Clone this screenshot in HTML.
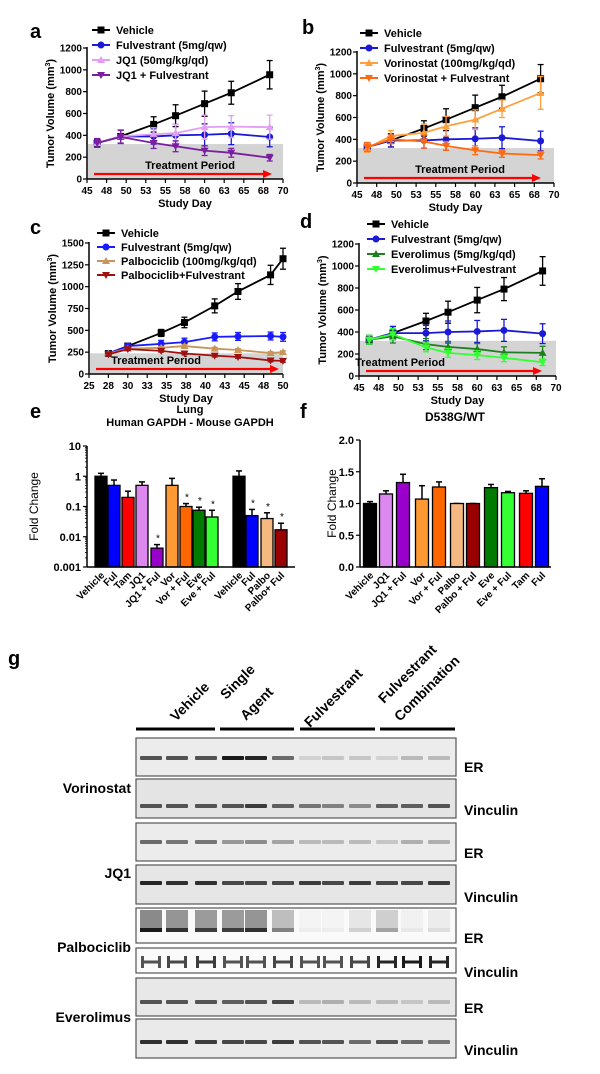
<!DOCTYPE html>
<html><head><meta charset="utf-8"><style>
body{margin:0;background:#fff}
svg{display:block;font-family:"Liberation Sans",Arial,sans-serif;font-weight:bold}
</style></head><body>
<svg id="fig" width="600" height="1074" viewBox="0 0 600 1074"></svg>
<script>
const daysA=[46.3,49.3,53.5,56.3,60,63.4,68.3];
const vehA=[330,390,500,580,690,790,955];
const vehAErr=[40,60,70,100,115,105,130];
const fulA=[330,390,390,400,405,415,385];
const fulAErr=[40,60,70,100,100,100,90];
const jq1A=[330,390,410,420,475,480,475];
const jq1AErr=[40,60,60,80,110,100,110];
const jqfA=[330,385,330,300,260,240,195];
const jqfAErr=[40,60,50,50,45,40,30];
const vorB=[320,430,460,520,580,680,825];
const vorBErr=[40,50,80,90,90,80,150];
const vorfB=[330,400,380,340,300,270,255];
const vorfBErr=[40,40,60,40,40,35,35];
const eveD=[330,360,290,265,245,215,210];
const eveDErr=[40,60,50,50,50,50,60];
const evefD=[330,380,260,210,190,165,125];
const evefDErr=[40,50,40,40,40,35,30];
const daysC=[27.5,30,34.3,37.3,41.2,44.2,48.4,50];
const vehC=[235,320,470,590,780,945,1135,1320];
const vehCErr=[20,20,40,60,80,90,110,120];
const fulC=[235,320,345,365,425,430,435,425];
const fulCErr=[20,20,40,45,45,45,45,50];
const palC=[235,290,300,320,290,275,240,250];
const palCErr=[15,15,15,15,15,15,15,15];
const palfC=[225,285,265,235,210,195,155,150];
const palfCErr=[15,15,15,15,15,15,15,15];
const ticksA=["45","48","50","53","55","58","60","63","65","68","70"];
const ticksC=["25","28","30","33","35","38","40","43","45","48","50"];
const catsE=["Vehicle","Ful","Tam","JQ1","JQ1 + Ful","Vor","Vor + Ful","Eve","Eve + Ful","Vehicle","Ful","Palbo","Palbo+ Ful"];
const valsE=[1.0,0.5,0.2,0.5,0.0042,0.5,0.1,0.075,0.045,1.0,0.05,0.04,0.017];
const errE=[1.25,0.75,0.32,0.65,0.0055,0.85,0.125,0.095,0.075,1.5,0.08,0.062,0.028];
const starE=[0,0,0,0,1,0,1,1,1,0,1,1,1];
const colE=["#000","#0000ff","#ff0000","#dd88ee","#9900cc","#ff9933","#ff6600","#007a00","#33ff33","#000","#0000ff","#f4b880","#990000"];
const catsF=["Vehicle","JQ1","JQ1 + Ful","Vor","Vor + Ful","Palbo","Palbo + Ful","Eve","Eve + Ful","Tam","Ful"];
const valsF=[1.0,1.15,1.33,1.07,1.26,1.0,1.0,1.25,1.17,1.16,1.27];
const errF=[0.03,0.05,0.13,0.21,0.08,0,0,0.05,0.02,0.04,0.12];
const colF=["#000","#dd88ee","#9900cc","#ff9933","#ff6600","#f4b880","#990000","#007a00","#33ff33","#ff0000","#0000ff"];

const NS="http://www.w3.org/2000/svg";
const svg=document.getElementById('fig');
function el(tag,attrs,parent,text){const e=document.createElementNS(NS,tag);for(const k in attrs)e.setAttribute(k,attrs[k]);if(text!==undefined)e.textContent=text;(parent||svg).appendChild(e);return e;}
function grp(name){const g=el('g',{});return g;}

function marker(g,type,x,y,c){
  let m;
  if(type==='sq')m=el('rect',{x:x-3.5,y:y-3.5,width:7,height:7,fill:c},g);
  else if(type==='ci')m=el('circle',{cx:x,cy:y,r:3.5,fill:c},g);
  else if(type==='tu')m=el('polygon',{points:`${x},${y-4} ${x-4},${y+3} ${x+4},${y+3}`,fill:c},g);
  else m=el('polygon',{points:`${x},${y+4} ${x-4},${y-3} ${x+4},${y-3}`,fill:c},g);
  return m;
}

function lineChart(cfg){
  const g=grp(cfg.name);
  const sx=v=>cfg.x0+(v-cfg.xmin)/(cfg.xmax-cfg.xmin)*(cfg.x1-cfg.x0);
  const sy=v=>cfg.y0-(v/cfg.ymax)*(cfg.y0-cfg.y1);
  const band=el('rect',{x:cfg.x0+1,y:sy(cfg.band),width:cfg.x1-cfg.x0-1,height:cfg.y0-sy(cfg.band),fill:'#d4d4d4'},g);
  
  const tp=el('text',{x:cfg.tpx,y:cfg.y0-10,'font-size':11,'text-anchor':'middle'},g,'Treatment Period');
  
  const ay=cfg.y0-5;
  const arr=el('line',{x1:cfg.x0+7,y1:ay,x2:cfg.arrowEnd-8,y2:ay,stroke:'#ff0000','stroke-width':2.2},g);
  
  el('polygon',{points:`${cfg.arrowEnd},${ay} ${cfg.arrowEnd-9},${ay-4} ${cfg.arrowEnd-9},${ay+4}`,fill:'#ff0000'},g);
  const ya=el('line',{x1:cfg.x0,y1:cfg.y1-1,x2:cfg.x0,y2:cfg.y0,stroke:'#000','stroke-width':1.5},g);
  
  const xa=el('line',{x1:cfg.x0,y1:cfg.y0,x2:cfg.x1,y2:cfg.y0,stroke:'#000','stroke-width':1.5},g);
  
  cfg.yticks.forEach(t=>{const y=sy(t);el('line',{x1:cfg.x0-4,y1:y,x2:cfg.x0,y2:y,stroke:'#000','stroke-width':1.2},g);
    const tx=el('text',{x:cfg.x0-5,y:y+3.5,'font-size':10,'text-anchor':'end'},g,String(t));
    });
  cfg.xticks.forEach((t,i)=>{const x=cfg.x0+i*(cfg.x1-cfg.x0)/(cfg.xticks.length-1);
    el('line',{x1:x,y1:cfg.y0,x2:x,y2:cfg.y0+4,stroke:'#000','stroke-width':1.2},g);
    const tx=el('text',{x:x,y:cfg.y0+15,'font-size':10,'text-anchor':'middle'},g,t);
    });
  const xt=el('text',{x:(cfg.x0+cfg.x1)/2,y:cfg.y0+28,'font-size':11,'text-anchor':'middle'},g,'Study Day');
  
  const ytx=cfg.x0-33, yty=(cfg.y0+cfg.y1)/2;
  const yt=el('text',{x:ytx,y:yty,'font-size':11,'text-anchor':'middle',transform:`rotate(-90 ${ytx} ${yty})`},g);
  
  el('tspan',{},yt,'Tumor Volume (mm');el('tspan',{dy:-4,'font-size':7},yt,'3');el('tspan',{dy:4},yt,')');
  const pl=el('text',{x:cfg.lx,y:cfg.ly,'font-size':20},g,cfg.letter);
  
  cfg.series.forEach((s,si)=>{
    const sg=el('g',{},g);
    
    s.vals.forEach((v,i)=>{const x=sx(cfg.days[i]);
      el('line',{x1:x,y1:sy(v+s.err[i]),x2:x,y2:sy(Math.max(0,v-s.err[i])),stroke:s.c,'stroke-width':1.3},sg);
      el('line',{x1:x-3,y1:sy(v+s.err[i]),x2:x+3,y2:sy(v+s.err[i]),stroke:s.c,'stroke-width':1.3},sg);
      el('line',{x1:x-3,y1:sy(Math.max(0,v-s.err[i])),x2:x+3,y2:sy(Math.max(0,v-s.err[i])),stroke:s.c,'stroke-width':1.3},sg);});
    const pts=s.vals.map((v,i)=>sx(cfg.days[i])+','+sy(v)).join(' ');
    el('polyline',{points:pts,fill:'none',stroke:s.c,'stroke-width':1.8},sg);
    s.vals.forEach((v,i)=>{const m=marker(sg,s.m,sx(cfg.days[i]),sy(v),s.c);
      });
    const ly=cfg.legY+si*cfg.legDy;
    const lg=el('g',{},g);
    
    el('line',{x1:cfg.legX,y1:ly,x2:cfg.legX+18,y2:ly,stroke:s.c,'stroke-width':2},lg);
    marker(lg,s.m,cfg.legX+9,ly,s.c);
    el('text',{x:cfg.legX+24,y:ly+4,'font-size':11},lg,s.label);
  });
}

lineChart({name:'panel-a',letter:'a',lx:30,ly:38,x0:87,x1:283,xmin:45,xmax:70,y0:179,y1:48,ymax:1200,band:320,tpx:190,arrowEnd:272,
 yticks:[0,200,400,600,800,1000,1200],xticks:ticksA,days:daysA,legX:92,legY:30,legDy:15,
 series:[{key:'vehicle',label:'Vehicle',vals:vehA,err:vehAErr,c:'#000',m:'sq'},
 {key:'fulvestrant',label:'Fulvestrant (5mg/qw)',vals:fulA,err:fulAErr,c:'#1a1ad6',m:'ci'},
 {key:'jq1',label:'JQ1 (50mg/kg/qd)',vals:jq1A,err:jq1AErr,c:'#e49ef5',m:'tu'},
 {key:'jq1-fulvestrant',label:'JQ1 + Fulvestrant',vals:jqfA,err:jqfAErr,c:'#7a1fa0',m:'td'}]});
lineChart({name:'panel-b',letter:'b',lx:302,ly:34,x0:357,x1:554,xmin:45,xmax:70,y0:183,y1:52,ymax:1200,band:320,tpx:460,arrowEnd:541,
 yticks:[0,200,400,600,800,1000,1200],xticks:ticksA,days:daysA,legX:360,legY:33,legDy:15,
 series:[{key:'vehicle',label:'Vehicle',vals:vehA,err:vehAErr,c:'#000',m:'sq'},
 {key:'fulvestrant',label:'Fulvestrant (5mg/qw)',vals:fulA,err:fulAErr,c:'#1a1ad6',m:'ci'},
 {key:'vorinostat',label:'Vorinostat (100mg/kg/qd)',vals:vorB,err:vorBErr,c:'#ffa040',m:'tu'},
 {key:'vorinostat-fulvestrant',label:'Vorinostat + Fulvestrant',vals:vorfB,err:vorfBErr,c:'#ff6a10',m:'td'}]});
lineChart({name:'panel-c',letter:'c',lx:30,ly:234,x0:89,x1:283,xmin:25,xmax:50,y0:374,y1:243,ymax:1500,band:237,tpx:156,arrowEnd:279,
 yticks:[0,250,500,750,1000,1250,1500],xticks:ticksC,days:daysC,legX:97,legY:233,legDy:14,
 series:[{key:'vehicle',label:'Vehicle',vals:vehC,err:vehCErr,c:'#000',m:'sq'},
 {key:'fulvestrant',label:'Fulvestrant (5mg/qw)',vals:fulC,err:fulCErr,c:'#1a1aff',m:'ci'},
 {key:'palbociclib',label:'Palbociclib (100mg/kg/qd)',vals:palC,err:palCErr,c:'#c8955a',m:'tu'},
 {key:'palbociclib-fulvestrant',label:'Palbociclib+Fulvestrant',vals:palfC,err:palfCErr,c:'#a01010',m:'td'}]});
lineChart({name:'panel-d',letter:'d',lx:300,ly:228,x0:359,x1:556,xmin:45,xmax:70,y0:376,y1:244,ymax:1200,band:320,tpx:400,arrowEnd:542,
 yticks:[0,200,400,600,800,1000,1200],xticks:ticksA,days:daysA,legX:367,legY:224,legDy:15,
 series:[{key:'vehicle',label:'Vehicle',vals:vehA,err:vehAErr,c:'#000',m:'sq'},
 {key:'fulvestrant',label:'Fulvestrant (5mg/qw)',vals:fulA,err:fulAErr,c:'#1a1ad6',m:'ci'},
 {key:'everolimus',label:'Everolimus (5mg/kg/qd)',vals:eveD,err:eveDErr,c:'#1f7f1f',m:'tu'},
 {key:'everolimus-fulvestrant',label:'Everolimus+Fulvestrant',vals:evefD,err:evefDErr,c:'#33ff33',m:'td'}]});

function barChart(cfg){
  const g=grp(cfg.name);
  const sy=cfg.sy;
  cfg.vals.forEach((v,i)=>{const x=cfg.xs[i];
    const top=sy(v), et=sy(cfg.errTop(v,cfg.err[i]));
    const bg=el('g',{},g);
    el('line',{x1:x,y1:et,x2:x,y2:top,stroke:'#000','stroke-width':1.5},bg);
    el('line',{x1:x-3,y1:et,x2:x+3,y2:et,stroke:'#000','stroke-width':1.5},bg);
    el('rect',{x:x-cfg.bw/2,y:top,width:cfg.bw,height:cfg.y0-top,fill:cfg.col[i],stroke:'#000','stroke-width':1.3},bg);
    if(cfg.star&&cfg.star[i]){el('text',{x:x+1,y:et-3,'font-size':10,'text-anchor':'middle','font-weight':'normal'},bg,'*');}
    const lx=x+4, ly=cfg.y0+9;
    const t=el('text',{x:lx,y:ly,'font-size':10,'text-anchor':'end',transform:`rotate(-45 ${lx} ${ly})`},g,cfg.cats[i]);
    
  });
  const ya=el('line',{x1:cfg.x0,y1:cfg.y1,x2:cfg.x0,y2:cfg.y0,stroke:'#000','stroke-width':1.5},g);
  
  const xa=el('line',{x1:cfg.x0,y1:cfg.y0,x2:cfg.x1,y2:cfg.y0,stroke:'#000','stroke-width':1.5},g);
  
  cfg.yticks.forEach((t,i)=>{const y=sy(t);el('line',{x1:cfg.x0-4,y1:y,x2:cfg.x0,y2:y,stroke:'#000','stroke-width':1.2},g);
    const tx=el('text',{x:cfg.x0-6,y:y+4,'font-size':11,'text-anchor':'end'},g,cfg.ytickLabels[i]);
    });
  if(cfg.minor)cfg.minor.forEach(t=>{el('line',{x1:cfg.x0-2,y1:sy(t),x2:cfg.x0,y2:sy(t),stroke:'#000','stroke-width':0.8},g);});
  const ytx=cfg.ytx,yty=(cfg.y0+cfg.y1)/2;
  const yt=el('text',{x:ytx,y:yty,'font-size':12,'text-anchor':'middle','font-weight':'normal',transform:`rotate(-90 ${ytx} ${yty})`},g,'Fold Change');
  
}
const eY0=567,eDec=30.25;
const syE=v=>eY0-(Math.log10(v)+3)*eDec;
const minorE=[];for(let d=-3;d<1;d++)for(let k=2;k<10;k++)minorE.push(k*Math.pow(10,d));
barChart({name:'panel-e-bar-chart',cats:catsE,vals:valsE,err:errE,star:starE,col:colE,xs:[101,114,128,142,157,172,186,199,212,239,252,267,281],bw:12,ytx:38,
 x0:87,x1:295,y0:567,y1:446,sy:syE,errTop:(v,e)=>e,yticks:[0.001,0.01,0.1,1,10],ytickLabels:['0.001','0.01','0.1','1','10'],minor:minorE});
const syF=v=>567-v/2*127;
barChart({name:'panel-f-bar-chart',cats:catsF,vals:valsF,err:errF,col:colF,xs:[370,386,403,422,439,457,473,491,508,526,542],bw:13,ytx:336,
 x0:360,x1:551,y0:567,y1:440,sy:syF,errTop:(v,e)=>v+e,yticks:[0,0.5,1,1.5,2],ytickLabels:['0.0','0.5','1.0','1.5','2.0']});

function txt(name,attrs,s){const t=el('text',attrs,svg,s);return t;}
txt('panel-label-e',{x:30,y:418,'font-size':20},'e');
txt('panel-label-f',{x:300,y:418,'font-size':20},'f');
txt('panel-e-title',{x:190,y:413,'font-size':11,'text-anchor':'middle'},'Lung');
txt('panel-e-subtitle',{x:190,y:426,'font-size':11,'text-anchor':'middle'},'Human GAPDH - Mouse GAPDH');
txt('panel-f-title',{x:455,y:421,'font-size':12,'text-anchor':'middle'},'D538G/WT');

txt('panel-label-g',{x:8,y:665,'font-size':20},'g');
const groupBars=[[136,215],[220,294],[300,375],[380,455]];
groupBars.forEach(b=>{const l=el('line',{x1:b[0],y1:729,x2:b[1],y2:729,stroke:'#000','stroke-width':3});});
function rot(name,x,y,s){txt(name,{x:x,y:y,'font-size':14,'font-weight':'bold',transform:`rotate(-45 ${x} ${y})`},s);}
rot('header-vehicle',176,722,'Vehicle');
rot('header-single',226,700,'Single');
rot('header-agent',246,721,'Agent');
rot('header-fulvestrant',310,728,'Fulvestrant');
rot('header-fulvestrant-2',384,704,'Fulvestrant');
rot('header-combination',400,722,'Combination');
const laneX=[151,177,206,233,256,283,310,333,360,387,412,439];
const erVor=[0.75,0.75,0.75,1,0.95,0.65,0.2,0.25,0.25,0.2,0.3,0.3];
const vinVor=[0.75,0.75,0.75,0.75,0.85,0.7,0.6,0.55,0.5,0.7,0.7,0.75];
const erJQ=[0.65,0.6,0.6,0.45,0.5,0.4,0.3,0.3,0.3,0.25,0.35,0.35];
const vinJQ=[0.95,0.9,0.9,0.8,0.8,0.8,0.85,0.8,0.85,0.8,0.8,0.85];
const erPal=[1,0.9,0.85,0.85,0.9,0.55,0.08,0.08,0.2,0.4,0.1,0.15];
const vinPal=[0.75,0.8,0.85,0.75,0.75,0.8,0.75,0.75,0.8,0.95,1,0.95];
const erEve=[0.75,0.75,0.75,0.7,0.75,0.8,0.3,0.35,0.3,0.3,0.25,0.3];
const vinEve=[0.9,0.9,0.85,0.8,0.8,0.85,0.75,0.75,0.65,0.75,0.65,0.6];
const blots=[
 {name:'vorinostat-er',top:738,bot:776,band:758,v:erVor,bg:'#ececec',lab:'ER',ly:772},
 {name:'vorinostat-vinculin',top:779,bot:818,band:806,v:vinVor,bg:'#e4e4e4',lab:'Vinculin',ly:815},
 {name:'jq1-er',top:823,bot:861,band:842,v:erJQ,bg:'#ececec',lab:'ER',ly:858},
 {name:'jq1-vinculin',top:865,bot:904,band:883,v:vinJQ,bg:'#e6e6e6',lab:'Vinculin',ly:902},
 {name:'palbociclib-er',top:908,bot:943,band:930,v:erPal,bg:'#fafafa',lab:'ER',ly:943,thick:true},
 {name:'palbociclib-vinculin',top:948,bot:973,band:962,v:vinPal,bg:'#fafafa',lab:'Vinculin',ly:977,thick:true},
 {name:'everolimus-er',top:978,bot:1016,band:1002,v:erEve,bg:'#e8e8e8',lab:'ER',ly:1013},
 {name:'everolimus-vinculin',top:1019,bot:1058,band:1042,v:vinEve,bg:'#eaeaea',lab:'Vinculin',ly:1055}];
blots.forEach(b=>{
  const g=grp('blot-'+b.name);
  el('rect',{x:136,y:b.top,width:320,height:b.bot-b.top,fill:b.bg,stroke:'#555','stroke-width':1.2},g);
  b.v.forEach((v,i)=>{const c=Math.round(255*(1-v*0.9));const col=`rgb(${c},${c},${c})`;
    if(b.thick&&b.name==='palbociclib-er'){
      el('rect',{x:laneX[i]-11,y:b.top+2,width:22,height:b.band-b.top,fill:col,opacity:0.5},g);
      el('rect',{x:laneX[i]-11,y:b.band-2,width:22,height:4,fill:col},g);
    } else if(b.thick){
      el('rect',{x:laneX[i]-10,y:b.band-6,width:3,height:12,fill:col},g);
      el('rect',{x:laneX[i]+7,y:b.band-6,width:3,height:12,fill:col},g);
      el('rect',{x:laneX[i]-10,y:b.band-1.5,width:20,height:3,fill:col},g);
    } else el('rect',{x:laneX[i]-11,y:b.band-2,width:22,height:4,fill:col,rx:1},g);
  });
  const t=el('text',{x:464,y:b.ly,'font-size':14},g,b.lab);
  
});
txt('row-label-vorinostat',{x:131,y:793,'font-size':14,'text-anchor':'end'},'Vorinostat');
txt('row-label-jq1',{x:131,y:878,'font-size':14,'text-anchor':'end'},'JQ1');
txt('row-label-palbociclib',{x:131,y:952,'font-size':14,'text-anchor':'end'},'Palbociclib');
txt('row-label-everolimus',{x:131,y:1022,'font-size':14,'text-anchor':'end'},'Everolimus');
</script>
</body></html>
